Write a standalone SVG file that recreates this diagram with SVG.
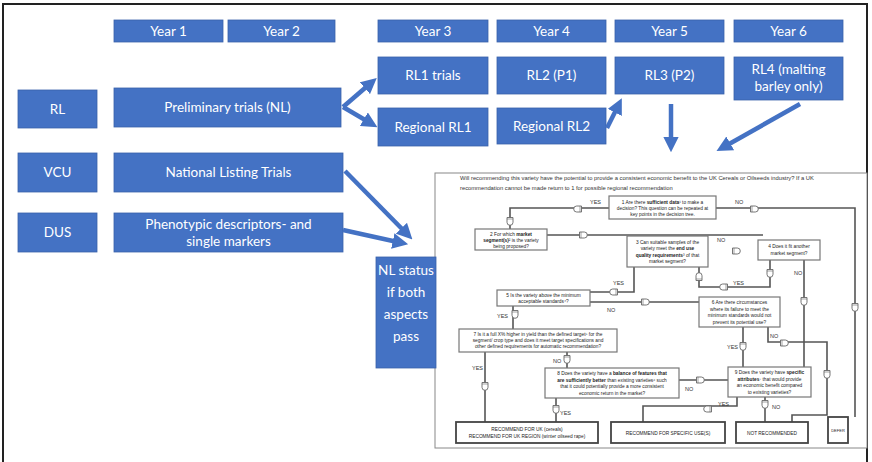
<svg xmlns="http://www.w3.org/2000/svg" width="872" height="462" viewBox="0 0 872 462">
<defs>
<style>
.b{fill:#4472C4;stroke:#3A62AA;stroke-width:0.8}
.bt{font-family:Lato,"Open Sans","Liberation Sans",sans-serif;font-size:13.5px;fill:#fff;text-anchor:middle}
.ba{stroke:#4472C4;stroke-width:4.5;fill:none;marker-end:url(#ah)}
.fb{fill:#fff;stroke:#777;stroke-width:1.2}
.fo{fill:#fff;stroke:#444;stroke-width:1.8}
.ft{font-family:"Liberation Sans",Arial,sans-serif;font-size:4.8px;fill:#222;text-anchor:middle}
.fl{font-family:"Liberation Sans",Arial,sans-serif;font-size:5.5px;fill:#333}
.c{stroke:#555;stroke-width:1.6;fill:none}
</style>
<marker id="ah" viewBox="0 0 10 10" refX="6" refY="5" markerWidth="3.5" markerHeight="3.5" orient="auto" markerUnits="strokeWidth">
<path d="M0,0 L10,5 L0,10 Z" fill="#4472C4"/>
</marker>
<g id="gate"><path d="M-4.5,-3 H0.3 A3,3 0 0 1 0.3,3 H-4.5 Z" fill="#fff" stroke="#666" stroke-width="0.9"/><path d="M-3,-3 V3" stroke="#666" stroke-width="0.6"/></g>
</defs>
<rect x="3" y="4" width="864" height="470" fill="#fff" stroke="#222" stroke-width="2"/>

<g id="year1"><rect class="b" x="114" y="20" width="109" height="22"/><text class="bt" x="168.5" y="36">Year 1</text></g>
<g id="year2"><rect class="b" x="228" y="20" width="107" height="22"/><text class="bt" x="281.5" y="36">Year 2</text></g>
<g id="year3"><rect class="b" x="378" y="20" width="110" height="22"/><text class="bt" x="433" y="36">Year 3</text></g>
<g id="year4"><rect class="b" x="497" y="20" width="109" height="22"/><text class="bt" x="551.5" y="36">Year 4</text></g>
<g id="year5"><rect class="b" x="615" y="20" width="109" height="22"/><text class="bt" x="669.5" y="36">Year 5</text></g>
<g id="year6"><rect class="b" x="734" y="20" width="109" height="22"/><text class="bt" x="788.5" y="36">Year 6</text></g>
<g id="rl1"><rect class="b" x="378" y="57" width="110" height="37"/><text class="bt" x="433" y="80">RL1 trials</text></g>
<g id="rl2"><rect class="b" x="497" y="57" width="109" height="37"/><text class="bt" x="551.5" y="80">RL2 (P1)</text></g>
<g id="rl3"><rect class="b" x="615" y="57" width="109" height="37"/><text class="bt" x="669.5" y="80">RL3 (P2)</text></g>
<g id="rl4"><rect class="b" x="734" y="57" width="109" height="43"/><text class="bt" x="788.5" y="74">RL4 (malting</text><text class="bt" x="788.5" y="91">barley only)</text></g>
<g id="rl"><rect class="b" x="18" y="90" width="79" height="38"/><text class="bt" x="57.5" y="114">RL</text></g>
<g id="prelim"><rect class="b" x="114" y="88" width="227" height="39"/><text class="bt" x="227.5" y="112">Preliminary trials (NL)</text></g>
<g id="regrl1"><rect class="b" x="378" y="108" width="110" height="38"/><text class="bt" x="433" y="132">Regional RL1</text></g>
<g id="regrl2"><rect class="b" x="497" y="108" width="109" height="36"/><text class="bt" x="551.5" y="131">Regional RL2</text></g>
<g id="vcu"><rect class="b" x="18" y="153" width="79" height="39"/><text class="bt" x="57.5" y="177">VCU</text></g>
<g id="nlt"><rect class="b" x="114" y="153" width="229" height="39"/><text class="bt" x="228.5" y="177">National Listing Trials</text></g>
<g id="dus"><rect class="b" x="18" y="213" width="79" height="39"/><text class="bt" x="57.5" y="237">DUS</text></g>
<g id="pheno"><rect class="b" x="114" y="213" width="229" height="39"/><text class="bt" x="228.5" y="229">Phenotypic descriptors- and</text><text class="bt" x="228.5" y="246">single markers</text></g>

<g id="panel">
<rect x="435" y="173" width="432" height="275" fill="#fff" stroke="#888" stroke-width="1"/>
<text class="fl" x="460" y="180" style="font-size:5.8px">Will recommending this variety have the potential to provide a consistent economic benefit to the UK Cereals or Oilseeds industry? If a UK</text>
<text class="fl" x="460" y="190" style="font-size:5.8px">recommendation cannot be made return to 1 for possible regional recommendation</text>
</g>

<g id="nlstatus"><rect class="b" x="376" y="257" width="60" height="111"/>
<text class="bt" x="406" y="275" style="font-size:13.5px">NL status</text><text class="bt" x="406" y="297" style="font-size:13.5px">if both</text><text class="bt" x="406" y="319" style="font-size:13.5px">aspects</text><text class="bt" x="406" y="341" style="font-size:13.5px">pass</text></g>

<g id="flow-connectors">
<path class="c" d="M609,208 H510 V229"/>
<path class="c" d="M716,208 H855 V417"/>
<path class="c" d="M547,235 H763"/>
<path class="c" d="M634,267 V292 H590"/>
<path class="c" d="M770,260 V287 H699 V267"/>
<path class="c" d="M804,260 V367"/>
<path class="c" d="M590,302 H699"/>
<path class="c" d="M513,306 V329"/>
<path class="c" d="M485,352 V422"/>
<path class="c" d="M567,352 V368"/>
<path class="c" d="M556,398 V422"/>
<path class="c" d="M679,380 H728"/>
<path class="c" d="M743,327 V367"/>
<path class="c" d="M768,327 V342 H827 V415 H792 V422"/>
<path class="c" d="M737,397 V406 H643 V422"/>
<path class="c" d="M765,397 V422"/>
<use href="#gate" transform="translate(577,209) rotate(180)"/>
<use href="#gate" transform="translate(510,222) rotate(90)"/>
<use href="#gate" transform="translate(755,209)"/>
<use href="#gate" transform="translate(855,308) rotate(90)"/>
<use href="#gate" transform="translate(584,235)"/>
<use href="#gate" transform="translate(737,251)"/>
<use href="#gate" transform="translate(613,292) rotate(180)"/>
<use href="#gate" transform="translate(770,274) rotate(90)"/>
<use href="#gate" transform="translate(723,287) rotate(180)"/>
<use href="#gate" transform="translate(699,276) rotate(-90)"/>
<use href="#gate" transform="translate(804,302) rotate(90)"/>
<use href="#gate" transform="translate(646,302)"/>
<use href="#gate" transform="translate(515,315) rotate(90)"/>
<use href="#gate" transform="translate(485,387) rotate(90)"/>
<use href="#gate" transform="translate(567,360) rotate(90)"/>
<use href="#gate" transform="translate(556,410) rotate(90)"/>
<use href="#gate" transform="translate(701,380)"/>
<use href="#gate" transform="translate(743,347) rotate(90)"/>
<use href="#gate" transform="translate(785,343)"/>
<use href="#gate" transform="translate(827,375) rotate(90)"/>
<use href="#gate" transform="translate(707,409) rotate(180)"/>
<use href="#gate" transform="translate(765,405) rotate(90)"/>
<text class="fl" x="590" y="204">YES</text>
<text class="fl" x="735" y="204">NO</text>
<text class="fl" x="717" y="242">NO</text>
<text class="fl" x="613" y="285">YES</text>
<text class="fl" x="733" y="285">YES</text>
<text class="fl" x="794" y="275">NO</text>
<text class="fl" x="607" y="312">NO</text>
<text class="fl" x="497" y="318">YES</text>
<text class="fl" x="472" y="370">YES</text>
<text class="fl" x="553" y="363">NO</text>
<text class="fl" x="560" y="415">YES</text>
<text class="fl" x="685" y="391">NO</text>
<text class="fl" x="727" y="349">YES</text>
<text class="fl" x="770" y="338">NO</text>
<text class="fl" x="718" y="406">YES</text>
<text class="fl" x="772" y="409">NO</text>
</g>

<g id="q1"><rect class="fb" x="609" y="196" width="107" height="23"/>
<text class="ft" x="662.5" y="203.5">1 Are there <tspan font-weight="bold">sufficient data</tspan>¹ to make a</text>
<text class="ft" x="662.5" y="209.5">decision? This question can be repeated at</text>
<text class="ft" x="662.5" y="215.5">key points in the decision tree.</text></g>
<g id="q2"><rect class="fb" x="475" y="229" width="72" height="21"/>
<text class="ft" x="511" y="235.5">2 For which <tspan font-weight="bold">market</tspan></text>
<text class="ft" x="511" y="241.5"><tspan font-weight="bold">segment(s)</tspan>² is the variety</text>
<text class="ft" x="511" y="247.5">being proposed?</text></g>
<g id="q3"><rect class="fb" x="627" y="236" width="81" height="31"/>
<text class="ft" x="667.5" y="243.5">3 Can suitable samples of the</text>
<text class="ft" x="667.5" y="250">variety meet the <tspan font-weight="bold">end use</tspan></text>
<text class="ft" x="667.5" y="256.5"><tspan font-weight="bold">quality requirements</tspan>³ of that</text>
<text class="ft" x="667.5" y="263">market segment?</text></g>
<g id="q4"><rect class="fb" x="758" y="240" width="62" height="20"/>
<text class="ft" x="789" y="248">4 Does it fit another</text>
<text class="ft" x="789" y="254.5">market segment?</text></g>
<g id="q5"><rect class="fb" x="497" y="290" width="93" height="16"/>
<text class="ft" x="543.5" y="296.5">5 Is the variety above the minimum</text>
<text class="ft" x="543.5" y="302.5">acceptable standards⁴?</text></g>
<g id="q6"><rect class="fb" x="699" y="297" width="81" height="30"/>
<text class="ft" x="739.5" y="304">6 Are there circumstances</text>
<text class="ft" x="739.5" y="310.5">where its failure to meet the</text>
<text class="ft" x="739.5" y="317">minimum standards would not</text>
<text class="ft" x="739.5" y="323.5">prevent its potential use?</text></g>
<g id="q7"><rect class="fb" x="459" y="329" width="158" height="23"/>
<text class="ft" x="538" y="336">7 Is it a full X% higher in yield than the defined target⁵ for the</text>
<text class="ft" x="538" y="342">segment/ crop type and does it meet target specifications and</text>
<text class="ft" x="538" y="348">other defined requirements for automatic recommendation?</text></g>
<g id="q8"><rect class="fb" x="545" y="368" width="134" height="30"/>
<text class="ft" x="612" y="375">8 Does the variety have a <tspan font-weight="bold">balance of features that</tspan></text>
<text class="ft" x="612" y="381.5"><tspan font-weight="bold">are sufficiently better</tspan> than existing varieties⁶ such</text>
<text class="ft" x="612" y="388">that it could potentially provide a more consistent</text>
<text class="ft" x="612" y="394.5">economic return in the market?</text></g>
<g id="q9"><rect class="fb" x="728" y="367" width="83" height="30"/>
<text class="ft" x="769.5" y="374">9 Does the variety have <tspan font-weight="bold">specific</tspan></text>
<text class="ft" x="769.5" y="380.5"><tspan font-weight="bold">attributes</tspan>⁷ that would provide</text>
<text class="ft" x="769.5" y="387">an economic benefit compared</text>
<text class="ft" x="769.5" y="393.5">to existing varieties?</text></g>
<g id="recuk"><rect class="fo" x="456" y="422" width="142" height="21"/>
<text class="ft" x="527" y="431">RECOMMEND FOR UK (cereals)</text>
<text class="ft" x="527" y="437.5">RECOMMEND FOR UK REGION (winter oilseed rape)</text></g>
<g id="recspec"><rect class="fo" x="611" y="422" width="114" height="21"/>
<text class="ft" x="668" y="434.5">RECOMMEND FOR SPECIFIC USE(S)</text></g>
<g id="notrec"><rect class="fo" x="736" y="422" width="72" height="21"/>
<text class="ft" x="772" y="434.5">NOT RECOMMENDED</text></g>
<g id="defer"><rect class="fo" x="828" y="417" width="20" height="26"/>
<text class="ft" x="838" y="431.5" style="font-size:4px">DEFER</text></g>

<g id="connectors">
<path class="ba" d="M343,107 L372,82"/>
<path class="ba" d="M343,107 L372,124"/>
<path class="ba" d="M607,128 L619,104"/>
<path class="ba" d="M671,104 L671,146"/>
<path class="ba" d="M800,104 L722,148"/>
<path class="ba" d="M345,171 L408,235"/>
<path class="ba" d="M343,230 L402,243"/>
</g>
</svg>
